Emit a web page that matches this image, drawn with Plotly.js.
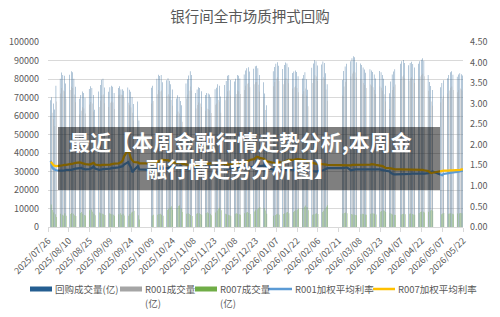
<!DOCTYPE html>
<html>
<head>
<meta charset="utf-8">
<script src="https://cdn.plot.ly/plotly-3.0.1.min.js"></script>
<style>
html,body{margin:0;padding:0;background:#fff;}
#chart{width:500px;height:317px;}
</style>
</head>
<body>
<div id="chart"></div>
<script>
// ---------- DATA ----------
const chartTitle = '银行间全市场质押式回购';
const seriesNames = ['回购成交量(亿)', 'R001成交量(亿)', 'R007成交量(亿)', 'R001加权平均利率', 'R007加权平均利率'];
const firstDay = '2025-07-28';
const lastDay = '2026-05-22';
const holidays = ['2025-10-01','2025-10-02','2025-10-03','2025-10-06','2025-10-07','2025-10-08',
  '2026-01-01','2026-01-02',
  '2026-02-16','2026-02-17','2026-02-18','2026-02-19','2026-02-20','2026-02-23',
  '2026-04-06','2026-05-01','2026-05-04','2026-05-05'];

// 回购成交量(亿) per trading day
const repoVolume = [
  68500,70200,66800,63500,76300, 80200,83500,82100,81800,77600, 82300,84200,83600,80100,75800,
  69300,71400,73200,72500,69800, 74600,76100,75200,71300,63400, 73200,76800,79600,80100,75400,
  73100,75600,76300,75800,72400, 75200,76100,74300,74500,73600, 75400,74200,73100,70300,66500,
  67800,57600, 75300,76400,
  80100,82300,81600,82100,78200, 79300,80400,79100,77200,74300, 69400,71200,70300,68100,65800,
  77600,79800,81900,84200,82100, 72400,74300,75600,75200,73400, 71300,72400,72100,71600,70200,
  74500,75300,77100,76400,70600, 76800,78900,81700,82200,79400, 78600,80200,82100,81800,80300,
  82400,84600,85800,86300,84100, 85600,86900,87200,85800,82100, 78300,72100,65800,
  84200,86500,88300,89100,87200, 85400,87600,88900,88400,86300, 83200,84100,84600,83800,81500,
  80300,82100,83600,79800,74200, 86100,88400,90200,89600,87300, 87800,89400,88600,83100,77200,
  79400,84300,86800,88200,
  89600,91200,92300,91800,89100, 88400,87600,86200,85100,83400, 85300,84600,83800,82400,80300,
  84300,83600,82200,80100,76400, 72300,78600,82400,84100,85300, 88200,89600,90300,88700,
  87400,88600,89300,88100,86200, 88300,89600,90400,91200,89800, 82100,78400,76200,74100,
  75600,77800,79300, 80400,82100,83600,84200,82300, 81200,82400,83100,82600,81900
];
// R001成交量(亿)
const r001Volume = [
  60100,61800,58200,54600,67900, 72100,75200,73800,73400,69300, 74100,75800,75200,71600,67400,
  60800,62900,64700,64100,61300, 66200,67600,66800,62400,54300, 64900,68400,71200,71600,66900,
  64800,67100,67900,67300,63800, 71200,71600,71500,71400,69800, 67100,65800,64600,61700,57600,
  59200,48600, 66800,68100,
  71800,74100,73200,73800,69900, 70900,71800,70600,68700,65600, 60800,62500,61400,59300,56900,
  69400,71600,73600,75900,73800, 64100,65900,67300,66800,64900, 62800,63900,63600,63100,61600,
  66100,66800,68600,67700,61800, 68500,70600,73400,73800,71100, 70300,71900,73800,73400,71900,
  74100,76300,77400,77900,75600, 77100,78300,78400,76900,73100, 69400,63200,56700,
  76100,78400,80100,80900,78900, 77100,79200,80500,79900,77700, 74800,75600,76100,75200,72800,
  71800,73400,74800,70900,65300, 77900,80200,82000,81300,78900, 79400,80900,79900,74300,68200,
  71100,76000,78500,79900,
  81400,83000,84100,83500,80800, 80100,79300,77900,76800,75100, 77000,76300,75500,74100,71900,
  76000,75300,73800,71700,67900, 63800,70200,74100,75800,77000, 79900,81300,82000,80400,
  79100,80300,81000,79800,77900, 80000,81300,82100,82900,81500, 73700,70000,67800,65600,
  67300,69500,71000, 72100,73800,75300,75900,74000, 72900,74100,74800,74300,73600
];
// R007成交量(亿)
const r007Volume = [
  12100,9200,7800,6900,5400, 7100,6600,6200,7400,6100, 7000,7600,7100,6400,5900,
  7600,8100,7200,6500,6200, 9100,9400,8200,7100,6300, 7800,7400,7100,6900,6500,
  7400,7100,6900,6600,6100, 6900,7400,6600,7100,6200, 6100,7000,7900,8300,8800,
  6400,4100, 6200,6600,
  6600,7000,7100,6600,6100, 9200,9900,10600,11200,9300, 10100,11300,11800,9900,8100,
  7100,7400,7000,6500,6000, 7100,7500,7400,7000,6600, 7600,8000,7500,7100,6400,
  7800,8900,9900,10400,9100, 7100,6900,6600,6400,6100, 7200,7400,7100,6900,6600,
  7400,7900,8100,7600,7000, 8400,9100,9600,10100,10800, 10200,8900,7100,
  6100,6500,6900,7100,6600, 7000,7400,7900,8100,7500, 8100,8600,9000,9500,9800,
  10100,10900,11600,10800,9100, 6600,6900,7100,7400,7000, 8100,8800,9900,10900,11800,
  7300,7600,7900,7400,
  7000,6800,6700,6500,6300, 6900,7100,7000,6800,6600, 7200,7500,7300,7100,6800,
  8200,8700,9100,8800,8100, 7400,7100,6800,6600,6500, 6800,7000,7100,6900,
  7100,7300,7000,6800,6600, 7600,8100,8400,8200,7900, 8300,8900,9300,8800,
  6900,7300,7600, 7100,7300,7400,7200,6900, 7300,7500,7600,7400,7200
];
// R001加权平均利率 (%)
const r001Rate = [
  1.61,1.45,1.41,1.39,1.38, 1.37,1.37,1.38,1.38,1.39, 1.38,1.39,1.40,1.41,1.42,
  1.43,1.44,1.42,1.41,1.40, 1.41,1.42,1.44,1.47,1.42, 1.39,1.39,1.40,1.41,1.41,
  1.41,1.42,1.43,1.43,1.44, 1.45,1.46,1.47,1.48,1.52, 1.58,1.50,1.45,1.33,1.38,
  1.48,1.40, 1.39,1.40,
  1.41,1.42,1.42,1.43,1.43, 1.43,1.44,1.44,1.45,1.45, 1.45,1.46,1.47,1.48,1.44,
  1.42,1.41,1.41,1.42,1.43, 1.44,1.45,1.46,1.46,1.47, 1.46,1.46,1.47,1.47,1.47,
  1.47,1.48,1.48,1.47,1.45, 1.43,1.42,1.42,1.42,1.43, 1.43,1.44,1.44,1.44,1.45,
  1.45,1.45,1.46,1.46,1.46, 1.46,1.47,1.47,1.48,1.48, 1.49,1.50,1.44,
  1.38,1.37,1.37,1.38,1.38, 1.38,1.39,1.39,1.40,1.40, 1.40,1.40,1.40,1.39,1.39,
  1.39,1.39,1.38,1.38,1.37, 1.37,1.36,1.35,1.35,1.36, 1.37,1.38,1.40,1.42,1.43,
  1.43,1.44,1.45,1.45,
  1.38,1.39,1.39,1.40,1.40, 1.40,1.40,1.41,1.41,1.41, 1.41,1.41,1.41,1.40,1.40,
  1.40,1.39,1.39,1.38,1.37, 1.35,1.31,1.29,1.28,1.28, 1.28,1.29,1.29,1.29,
  1.29,1.29,1.30,1.30,1.30, 1.29,1.29,1.29,1.30,1.30, 1.31,1.32,1.33,1.35,
  1.27,1.26,1.29, 1.31,1.32,1.32,1.33,1.33, 1.34,1.35,1.35,1.36,1.37
];
// R007加权平均利率 (%)
const r007Rate = [
  1.59,1.53,1.50,1.49,1.48, 1.49,1.50,1.50,1.51,1.51, 1.52,1.53,1.54,1.55,1.56,
  1.57,1.56,1.55,1.54,1.53, 1.52,1.53,1.54,1.56,1.52, 1.50,1.50,1.51,1.51,1.52,
  1.52,1.52,1.53,1.53,1.54, 1.55,1.56,1.58,1.62,1.72, 1.88,1.78,1.66,1.62,1.58,
  1.57,1.55, 1.55,1.57,
  1.58,1.60,1.62,1.63,1.63, 1.63,1.62,1.60,1.58,1.57, 1.56,1.56,1.57,1.58,1.54,
  1.52,1.51,1.50,1.50,1.51, 1.51,1.51,1.52,1.52,1.53, 1.53,1.54,1.54,1.55,1.55,
  1.56,1.57,1.57,1.56,1.55, 1.53,1.52,1.52,1.52,1.53, 1.53,1.54,1.54,1.55,1.56,
  1.57,1.58,1.59,1.61,1.63, 1.65,1.68,1.71,1.70,1.68, 1.66,1.64,1.60,
  1.56,1.55,1.55,1.56,1.57, 1.58,1.59,1.60,1.62,1.63, 1.63,1.64,1.65,1.65,1.65,
  1.64,1.63,1.62,1.60,1.58, 1.56,1.55,1.54,1.54,1.53, 1.53,1.53,1.52,1.52,1.51,
  1.50,1.50,1.49,1.49,
  1.50,1.51,1.51,1.51,1.51, 1.51,1.52,1.52,1.52,1.52, 1.52,1.53,1.53,1.52,1.51,
  1.50,1.49,1.48,1.46,1.44, 1.43,1.42,1.41,1.41,1.40, 1.40,1.40,1.40,1.40,
  1.40,1.40,1.39,1.39,1.39, 1.39,1.39,1.39,1.39,1.38, 1.36,1.33,1.31,1.32,
  1.37,1.37,1.37, 1.37,1.38,1.38,1.38,1.38, 1.38,1.39,1.39,1.40,1.40
];
const overlayLines = ['最近【本周金融行情走势分析,本周金', '融行情走势分析图】'];

// ---------- trading-day categories ----------
const tradingDays = [];
(function(){
  let t = Date.parse(firstDay + 'T00:00:00Z');
  const end = Date.parse(lastDay + 'T00:00:00Z');
  while (t <= end) {
    const d = new Date(t);
    const s = d.toISOString().slice(0,10);
    const wd = d.getUTCDay();
    if (wd !== 0 && wd !== 6 && holidays.indexOf(s) < 0) tradingDays.push(s);
    t += 86400000;
  }
})();

// ---------- layout helpers (pixel -> paper) ----------
const W = 500, H = 317, L = 48, R = 37, T = 42, B = 90;
const PW = W - L - R, PH = H - T - B;
const px = x => (x - L) / PW;
const py = y => (H - B - y) / PH;

const txtColor = '#595959';
const font = 'Noto Sans CJK SC, Liberation Sans, sans-serif';
const cols = ['#255E91', '#A5A5A5', '#70AD47', '#5B9BD5', '#FFC000'];

const traces = [
  {type:'bar', name:seriesNames[0], x:tradingDays, y:repoVolume, marker:{color:cols[0]}, yaxis:'y'},
  {type:'bar', name:seriesNames[1], x:tradingDays, y:r001Volume, marker:{color:cols[1]}, yaxis:'y'},
  {type:'bar', name:seriesNames[2], x:tradingDays, y:r007Volume, marker:{color:cols[2]}, yaxis:'y'},
  {type:'scatter', mode:'lines', name:seriesNames[3], x:tradingDays, y:r001Rate, line:{color:cols[3], width:2.25}, yaxis:'y2'},
  {type:'scatter', mode:'lines', name:seriesNames[4], x:tradingDays, y:r007Rate, line:{color:cols[4], width:2.25}, yaxis:'y2'}
];

const shapes = [];
const annotations = [];

// overlay box with caption (one two-line text)
shapes.push({type:'rect', xref:'paper', yref:'paper', x0:px(58), x1:px(440), y0:py(190), y1:py(127),
  fillcolor:'rgba(0,0,0,0.5)', line:{width:0}, layer:'above'});
annotations.push({xref:'paper', yref:'paper', x:px(240), y:py(154.5),
  text:'<b>'+overlayLines[0]+'</b><br><b>'+overlayLines[1]+'</b>', showarrow:false, align:'center',
  font:{family:font, size:21, color:'#ffffff'}, xanchor:'center', yanchor:'middle'});

// legend (drawn manually to match Excel style)
const legY = 289, legY2 = 303;
const legItems = [
  {kind:'rect', x0:30, x1:52, tx:53, name:seriesNames[0], c:cols[0]},
  {kind:'rect', x0:120, x1:142, tx:143, name:'R001成交量', sub:'(亿)', c:cols[1]},
  {kind:'rect', x0:195, x1:217, tx:218, name:'R007成交量', sub:'(亿)', c:cols[2]},
  {kind:'line', x0:268, x1:292, tx:293, name:seriesNames[3], c:cols[3]},
  {kind:'line', x0:373, x1:395, tx:396, name:seriesNames[4], c:cols[4]}
];
legItems.forEach(it => {
  if (it.kind === 'rect') {
    shapes.push({type:'rect', xref:'paper', yref:'paper', x0:px(it.x0), x1:px(it.x1), y0:py(legY+2.5), y1:py(legY-2.5),
      fillcolor:it.c, line:{width:0}});
  } else {
    shapes.push({type:'line', xref:'paper', yref:'paper', x0:px(it.x0), x1:px(it.x1), y0:py(legY), y1:py(legY),
      line:{color:it.c, width:2.5}});
  }
  annotations.push({xref:'paper', yref:'paper', x:px(it.tx), y:py(legY), text:it.name, showarrow:false,
    xanchor:'left', yanchor:'middle', font:{family:font, size:9.5, color:txtColor}});
  if (it.sub) annotations.push({xref:'paper', yref:'paper', x:px(it.tx), y:py(legY2), text:it.sub, showarrow:false,
    xanchor:'left', yanchor:'middle', font:{family:font, size:9.5, color:txtColor}});
});

const layout = {
  width:W, height:H,
  margin:{l:L, r:R, t:T, b:B, pad:0},
  paper_bgcolor:'#ffffff', plot_bgcolor:'#ffffff',
  font:{family:font, color:txtColor, size:9},
  title:{text:chartTitle, font:{family:font, size:14.5, color:txtColor}, x:0.5, xref:'container', xanchor:'center',
    y:1 - 17/H, yref:'container', yanchor:'middle'},
  showlegend:false,
  barmode:'group', bargap:0.25, bargroupgap:0,
  xaxis:{type:'date', range:['2025-07-26', '2026-05-22'], tick0:'2025-07-26', dtick:15*86400000,
    tickformat:'%Y/%m/%d', tickangle:-45, ticks:'outside', ticklen:4, tickcolor:'#D9D9D9',
    showline:true, linecolor:'#D9D9D9', linewidth:1, showgrid:false, zeroline:false,
    tickfont:{family:font, size:9, color:txtColor}, fixedrange:true},
  yaxis:{range:[0,100000], dtick:10000, tickformat:'d', showgrid:true, gridcolor:'#D9D9D9', gridwidth:1,
    zeroline:false, showline:false, ticks:'', ticklabelstandoff:8,
    tickfont:{family:font, size:9, color:txtColor}},
  yaxis2:{range:[0,4.5], dtick:0.5, tickformat:'.2f', overlaying:'y', side:'right', showgrid:false,
    zeroline:false, showline:false, ticks:'', ticklabelstandoff:6,
    tickfont:{family:font, size:9, color:txtColor}},
  shapes:shapes,
  annotations:annotations
};

Plotly.newPlot('chart', traces, layout, {staticPlot:true, displayModeBar:false});
</script>
</body>
</html>
